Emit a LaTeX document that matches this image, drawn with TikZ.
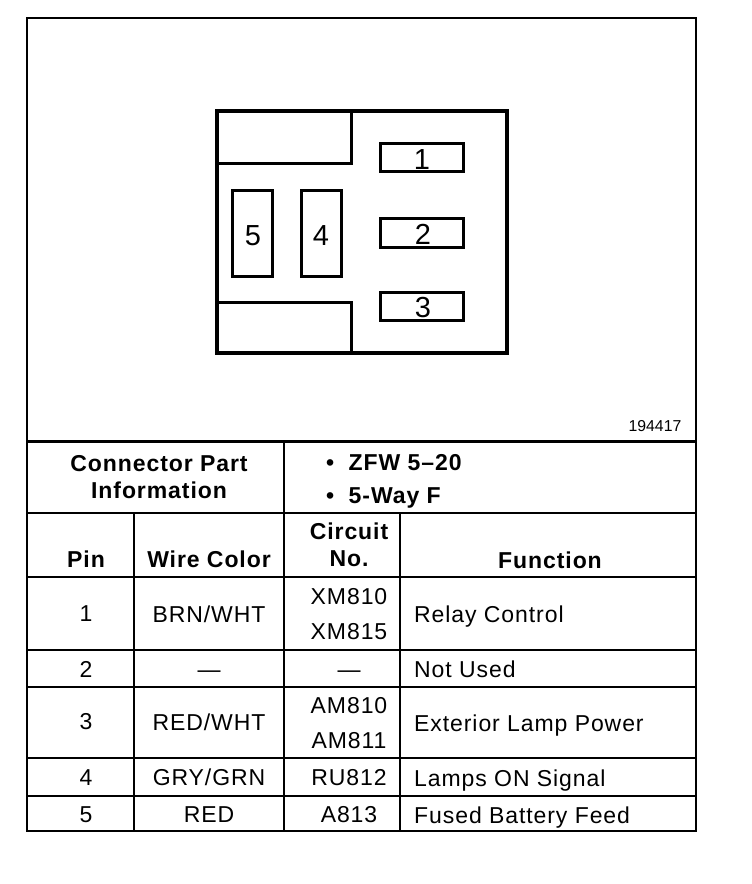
\documentclass[tikz,border=0pt]{standalone}
\usepackage{fontspec}
\setmainfont{Liberation Sans}[LetterSpace=4]
\newfontfamily\plainsans{Liberation Sans}
\begin{document}
\begin{tikzpicture}[x=1pt,y=-1pt,
  thick2/.style={line width=3pt,black,line join=miter},
  grid/.style={line width=2.6pt,black},
  conn/.style={line width=4pt,black},
  pinbox/.style={draw=black,line width=3pt,inner sep=0pt},
  pinnum/.style={font=\plainsans\fontsize{29}{29}\selectfont,inner sep=0pt,anchor=base},
  cell/.style={font=\fontsize{23}{27}\selectfont,inner sep=0pt,anchor=base},
  cellw/.style={cell,anchor=base west},
  head/.style={font=\fontsize{23}{27}\selectfont\bfseries,inner sep=0pt,align=center}]
\useasboundingbox (0,0) rectangle (752,884);
\fill[white] (0,0) rectangle (752,884);
% frame
\draw[grid] (27,18) rectangle (696,831);
\draw[grid] (27,441.5) -- (696,441.5);
\draw[grid] (27,513) -- (696,513);
\draw[grid] (27,577) -- (696,577);
\draw[grid] (27,650) -- (696,650);
\draw[grid] (27,687) -- (696,687);
\draw[grid] (27,758) -- (696,758);
\draw[grid] (27,796) -- (696,796);
\draw[grid] (284,441.5) -- (284,831);
\draw[grid] (134,513) -- (134,831);
\draw[grid] (400,513) -- (400,831);
% connector
\draw[conn] (217,111) rectangle (507,353);
\draw[thick2] (217,163) -- (351,163) -- (351,111);
\draw[thick2] (217,302.5) -- (351,302.5) -- (351,353);
\draw[pinbox] (232.5,190.5) rectangle (272.5,276.5);
\draw[pinbox] (301.5,190.5) rectangle (341.5,276.5);
\draw[pinbox] (380.5,143.5) rectangle (463.5,171.5);
\draw[pinbox] (380.5,218.5) rectangle (463.5,247.5);
\draw[pinbox] (380.5,292.5) rectangle (463.5,320.5);
\node[pinnum] (n5) at (253,245) {5};
\node[pinnum] (n4) at (321,245) {4};
\node[pinnum] (n1) at (422,169) {1};
\node[pinnum] (n2) at (423,244) {2};
\node[pinnum] (n3) at (423,317) {3};
\node[font=\plainsans\fontsize{15.8}{16}\selectfont,inner sep=0pt,anchor=base] (ref) at (655,431) {194417};
% header
\node[head] (cpi) at (159,477) {Connector Part\\Information};
\node[head,anchor=base west] (zfw) at (326,470) {•\hspace{14.5pt}ZFW 5–20};
\node[head,anchor=base west] (way) at (326,503) {•\hspace{14.5pt}5-Way F};
\node[head,anchor=base] (h1) at (86,567) {Pin};
\node[head,anchor=base] (h2) at (209,567) {Wire Color};
\node[head] (h3) at (349,544.5) {Circuit\\No.};
\node[head,anchor=base] (h4) at (550,568) {Function};
% rows
\node[cell] (r1a) at (86,621) {1};
\node[cell] (r1b) at (209,622) {BRN/WHT};
\node[cell] (r1c) at (349,604) {XM810};
\node[cell] (r1d) at (349,639) {XM815};
\node[cellw] (r1e) at (414,622) {Relay Control};
\node[cell] (r2a) at (86,677) {2};
\node[cell] (r2b) at (209,677) {—};
\node[cell] (r2c) at (349,677) {—};
\node[cellw] (r2e) at (414,677) {Not Used};
\node[cell] (r3a) at (86,729) {3};
\node[cell] (r3b) at (209,730) {RED/WHT};
\node[cell] (r3c) at (349,713) {AM810};
\node[cell] (r3d) at (349,748) {AM811};
\node[cellw] (r3e) at (414,731) {Exterior Lamp Power};
\node[cell] (r4a) at (86,785) {4};
\node[cell] (r4b) at (209,785) {GRY/GRN};
\node[cell] (r4c) at (349,785) {RU812};
\node[cellw] (r4e) at (414,786) {Lamps ON Signal};
\node[cell] (r5a) at (86,822) {5};
\node[cell] (r5b) at (209,822) {RED};
\node[cell] (r5c) at (349,822) {A813};
\node[cellw] (r5e) at (414,823) {Fused Battery Feed};
\end{tikzpicture}
\end{document}
